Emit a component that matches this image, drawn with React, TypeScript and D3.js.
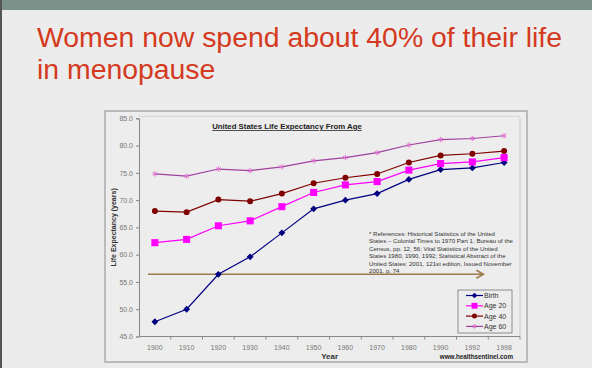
import * as d3 from "d3";
import { useRef, useEffect } from "react";

// chart values
const years = ["1900", "1910", "1920", "1930", "1940", "1950", "1960", "1970", "1980", "1990", "1992", "1998"];
const birth = [47.7, 50.0, 56.4, 59.6, 64.0, 68.4, 70.0, 71.2, 73.8, 75.6, 75.9, 76.9];
const age20 = [62.2, 62.8, 65.3, 66.2, 68.8, 71.4, 72.8, 73.4, 75.5, 76.7, 77.0, 77.8];
const age40 = [68.0, 67.8, 70.1, 69.8, 71.2, 73.1, 74.1, 74.8, 76.9, 78.2, 78.5, 79.0];
const age60 = [74.8, 74.4, 75.7, 75.4, 76.1, 77.2, 77.8, 78.7, 80.1, 81.1, 81.3, 81.8];
const seriesNames = ["Birth", "Age 20", "Age 40", "Age 60"];
const yTicks = [45, 50, 55, 60, 65, 70, 75, 80, 85];
const arrowLevel = 56.4;
const referenceLines = [
  "* References: Historical Statistics of the United",
  "States \u2013 Colonial Times to 1970 Part 1, Bureau of the",
  "Census, pp. 12, 56; Vital Statistics of the United",
  "States 1980, 1990, 1992; Statistical Abstract of the",
  "United States: 2001, 121st edition, Issued November",
  "2001, p. 74",
];

const width = 592;
const height = 368;
const plotLeft = 139;
const plotRight = 520;
const plotTop = 118.3;
const plotBottom = 336.5;

const colors = ["#000080", "#ff00ff", "#800000", "#a040a0"];
const font = "'Liberation Sans', Arial, sans-serif";

const App = () => {
  const ref = useRef<SVGSVGElement>(null);

  useEffect(() => {
    if (!ref.current) return;
    const svg = d3.select(ref.current);
    svg.selectAll("*").remove();

    // slide background
    svg.append("rect").attr("width", width).attr("height", height).attr("fill", "#ececec");
    svg.append("rect").attr("width", width).attr("height", 10).attr("fill", "#7a9289");
    svg.append("rect").attr("width", 2).attr("height", height).attr("fill", "#555");

    // slide title
    const title = svg.append("text")
      .attr("font-family", font)
      .attr("font-size", 28.4)
      .attr("fill", "#d43a20");
    title.append("tspan").attr("x", 37).attr("y", 47).text("Women now spend about 40% of their life");
    title.append("tspan").attr("x", 37).attr("y", 79).text("in menopause");

    // chart frame
    svg.append("rect")
      .attr("x", 105).attr("y", 111).attr("width", 422).attr("height", 251)
      .attr("fill", "#ededed").attr("stroke", "#9a9a9a").attr("stroke-width", 1.2);

    const x = d3.scaleBand().domain(years).range([plotLeft, plotRight]);
    const cx = (d: string) => (x(d) ?? 0) + x.bandwidth() / 2;
    const y = d3.scaleLinear().domain([45, 85]).range([plotBottom, plotTop]);

    // plot area border
    svg.append("line")
      .attr("x1", plotRight).attr("x2", plotRight).attr("y1", plotTop).attr("y2", plotBottom)
      .attr("stroke", "#c8c8c8");
    svg.append("line")
      .attr("x1", plotLeft).attr("x2", plotRight).attr("y1", plotTop - 2).attr("y2", plotTop - 2)
      .attr("stroke", "#d4d4d4");

    // y axis
    const yAxis = svg.append("g")
      .attr("transform", `translate(${plotLeft},0)`)
      .call(d3.axisLeft(y).tickValues(yTicks).tickFormat(d3.format(".1f")).tickSize(3).tickPadding(3));
    yAxis.select(".domain").attr("stroke", "#888");
    yAxis.selectAll(".tick line").attr("stroke", "#888");
    yAxis.selectAll("text").attr("font-family", font).attr("font-size", 7).attr("fill", "#777");

    // x axis: ticks sit between categories
    const xAxis = svg.append("g").attr("transform", `translate(0,${plotBottom})`);
    xAxis.append("line")
      .attr("x1", plotLeft).attr("x2", plotRight).attr("stroke", "#888");
    xAxis.selectAll("line.tick")
      .data(years)
      .enter().append("line")
      .attr("class", "tick")
      .attr("x1", (d) => (x(d) ?? 0) + x.bandwidth())
      .attr("x2", (d) => (x(d) ?? 0) + x.bandwidth())
      .attr("y1", 0).attr("y2", 3)
      .attr("stroke", "#888");
    xAxis.selectAll("text")
      .data(years)
      .enter().append("text")
      .attr("x", cx)
      .attr("y", 13)
      .attr("text-anchor", "middle")
      .attr("font-family", font).attr("font-size", 7).attr("fill", "#777")
      .text((d) => d);

    // axis titles
    svg.append("text")
      .attr("x", cx("1950") + 16).attr("y", 358.5)
      .attr("text-anchor", "middle")
      .attr("font-family", font).attr("font-size", 8).attr("font-weight", "bold").attr("fill", "#333")
      .text("Year");
    svg.append("text")
      .attr("transform", `translate(116,${y(65)}) rotate(-90)`)
      .attr("text-anchor", "middle")
      .attr("font-family", font).attr("font-size", 7).attr("font-weight", "bold").attr("fill", "#333")
      .text("Life Expectancy (years)");
    svg.append("text")
      .attr("x", 513).attr("y", 359)
      .attr("text-anchor", "end")
      .attr("font-family", font).attr("font-size", 6.3).attr("font-weight", "bold").attr("fill", "#222")
      .text("www.healthsentinel.com");

    // chart title
    svg.append("text")
      .attr("x", 287).attr("y", 129)
      .attr("text-anchor", "middle")
      .attr("font-family", font).attr("font-size", 7.8).attr("font-weight", "bold").attr("fill", "#222")
      .attr("text-decoration", "underline")
      .text("United States Life Expectancy From Age");

    // reference note
    svg.append("g")
      .selectAll("text")
      .data(referenceLines)
      .enter().append("text")
      .attr("x", 369)
      .attr("y", (d, i) => 235.5 + i * 7.5)
      .attr("font-family", font).attr("font-size", 6.1).attr("fill", "#333")
      .text((d) => d);

    // arrow
    const ay = y(arrowLevel);
    const ax1 = x.range()[0] + 9;
    const ax2 = cx("1992") + 11;
    svg.append("line")
      .attr("x1", ax1).attr("x2", ax2).attr("y1", ay).attr("y2", ay)
      .attr("stroke", "#9c7a4c").attr("stroke-width", 1.6);
    svg.append("path")
      .attr("d", `M${ax2 - 7},${ay - 4} L${ax2},${ay} L${ax2 - 7},${ay + 4}`)
      .attr("fill", "none").attr("stroke", "#9c7a4c").attr("stroke-width", 1.6);

    // series
    const allSeries = [birth, age20, age40, age60];
    const markerFor = (i: number, scale = 1) => {
      if (i === 0) return d3.symbol().type(d3.symbolDiamond2).size(30 * scale)();
      if (i === 1) return d3.symbol().type(d3.symbolSquare).size(50 * scale)();
      if (i === 2) return d3.symbol().type(d3.symbolCircle).size(28 * scale)();
      return d3.symbol().type(d3.symbolAsterisk).size(20 * scale)();
    };
    const markerFill = ["#000080", "#ff00ff", "#800000", "none"];
    const markerStroke = ["none", "none", "none", "#e070d0"];

    const line = d3.line<number>()
      .x((d, i) => cx(years[i]))
      .y((d) => y(d));

    allSeries.forEach((values, s) => {
      svg.append("path")
        .datum(values)
        .attr("d", line)
        .attr("fill", "none")
        .attr("stroke", colors[s])
        .attr("stroke-width", 1.2);
      svg.append("g")
        .selectAll("path")
        .data(values)
        .enter().append("path")
        .attr("transform", (d, i) => `translate(${cx(years[i])},${y(d)})`)
        .attr("d", markerFor(s))
        .attr("fill", markerFill[s])
        .attr("stroke", markerStroke[s])
        .attr("stroke-width", 1);
    });

    // legend
    const legend = svg.append("g").attr("transform", "translate(458,290)");
    legend.append("rect")
      .attr("width", 54).attr("height", 43)
      .attr("fill", "#ededed").attr("stroke", "#777").attr("stroke-width", 0.8);
    seriesNames.forEach((name, s) => {
      const ly = 5.5 + s * 10.3;
      legend.append("line")
        .attr("x1", 8).attr("x2", 25).attr("y1", ly).attr("y2", ly)
        .attr("stroke", colors[s]).attr("stroke-width", 1.2);
      legend.append("path")
        .attr("transform", `translate(16.5,${ly})`)
        .attr("d", markerFor(s, 0.7))
        .attr("fill", markerFill[s])
        .attr("stroke", markerStroke[s]);
      legend.append("text")
        .attr("x", 26).attr("y", ly + 2.5)
        .attr("font-family", font).attr("font-size", 7).attr("fill", "#333")
        .text(name);
    });
  }, []);

  return (
    <svg
      ref={ref}
      width={width}
      height={height}
      style={{ position: "absolute", left: 0, top: 0 }}
    />
  );
};

export default App;
